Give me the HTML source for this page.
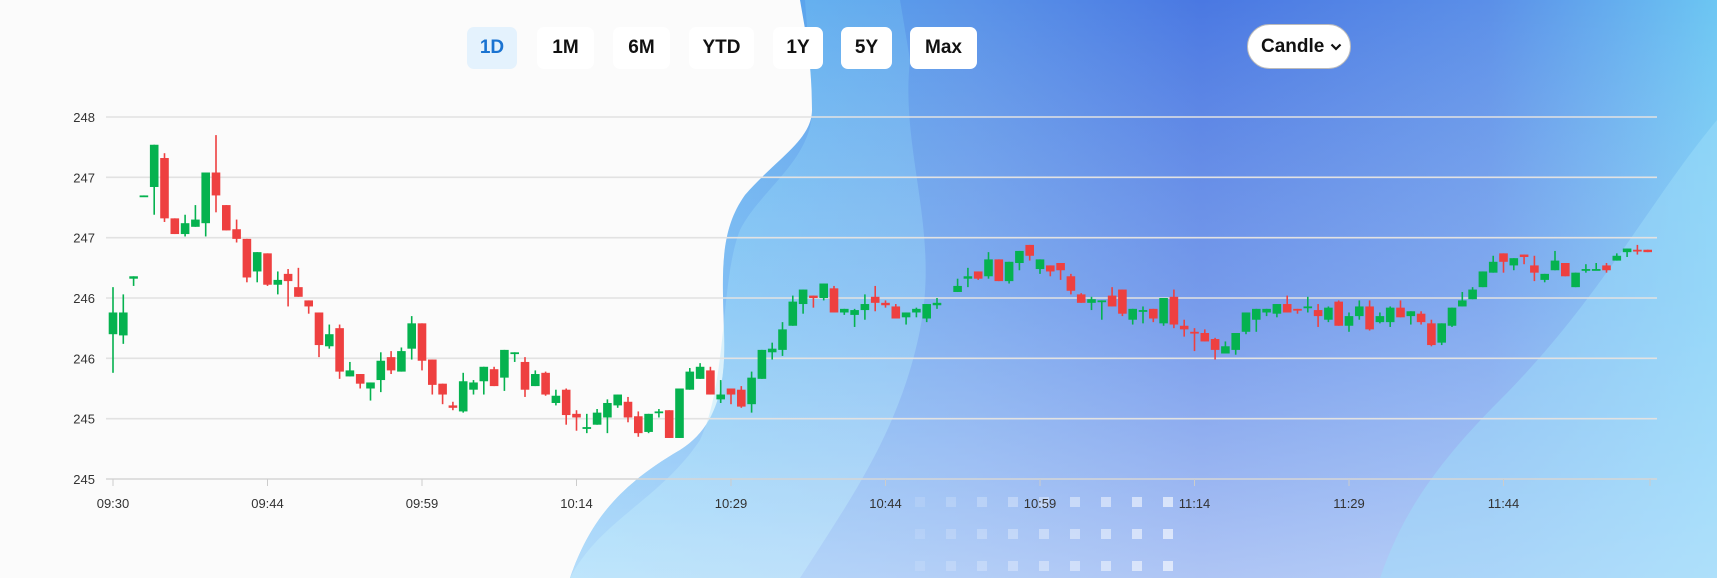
<!DOCTYPE html>
<html><head><meta charset="utf-8"><style>
html,body{margin:0;padding:0;background:#fbfbfb;width:1717px;height:578px;overflow:hidden;font-family:"Liberation Sans",sans-serif}
#wrap{position:relative;width:1717px;height:578px}
svg{position:absolute;left:0;top:0}
.btn{position:absolute;top:27px;height:42px;background:#fff;border-radius:7px;font-weight:bold;font-size:19px;line-height:42px;text-align:center;color:#111}
.btn.active{background:#e4f2fd;color:#1a73d1}
#sel{position:absolute;left:1247px;top:24px;width:104px;height:45px;border-radius:23px;background:#fff;border:1px solid #bbb;box-sizing:border-box;font-weight:bold;font-size:19px;line-height:43px;padding-left:13px;color:#111}
#sel svg{position:absolute;left:82px;top:18px}
</style></head><body>
<div id="wrap">
<svg width="1717" height="578">
<defs>
<linearGradient id="gH" x1="0" y1="0" x2="1" y2="0">
<stop offset="0" stop-color="#5cbcf3"/><stop offset="0.35" stop-color="#5a93e8"/><stop offset="0.55" stop-color="#4a78e2"/><stop offset="0.8" stop-color="#5b8fe8"/><stop offset="1" stop-color="#6cc6f3"/>
</linearGradient>
<linearGradient id="gV" x1="0" y1="0" x2="0" y2="1">
<stop offset="0" stop-color="#fff" stop-opacity="0"/><stop offset="0.5" stop-color="#d8e6ff" stop-opacity="0.3"/><stop offset="1" stop-color="#e4eeff" stop-opacity="0.65"/>
</linearGradient>
<linearGradient id="gL" x1="0" y1="0" x2="0" y2="1">
<stop offset="0" stop-color="#7fd0f6" stop-opacity="0.5"/><stop offset="1" stop-color="#c8eefc" stop-opacity="0.9"/>
</linearGradient>
</defs>
<path d="M800,0 L1717,0 L1717,578 L570,578 C590,520 620,485 680,450 C720,425 726,380 724,330 C722,270 720,230 745,195 C775,160 812,140 812,110 C812,60 805,30 800,0 Z" fill="url(#gH)"/>
<path d="M800,0 L1717,0 L1717,578 L570,578 C590,520 620,485 680,450 C720,425 726,380 724,330 C722,270 720,230 745,195 C775,160 812,140 812,110 C812,60 805,30 800,0 Z" fill="url(#gV)"/>
<path d="M812,110 C812,160 760,190 740,230 C720,280 728,380 700,440 C660,500 600,520 570,578 L800,578 C850,500 900,430 920,330 C940,230 900,150 910,60 L900,0 L805,0 C808,40 812,80 812,110 Z" fill="url(#gL)" opacity="0.55"/>
<path d="M1717,120 C1650,200 1600,300 1500,400 C1430,470 1400,520 1380,578 L1717,578 Z" fill="#9fe0fa" opacity="0.45"/>
<g id="dots"></g>
</svg>
<svg id="chart" width="1717" height="578"></svg>

<div class="btn active" style="left:467px;width:50px">1D</div>
<div class="btn" style="left:537px;width:57px">1M</div>
<div class="btn" style="left:613px;width:57px">6M</div>
<div class="btn" style="left:689px;width:65px">YTD</div>
<div class="btn" style="left:773px;width:50px">1Y</div>
<div class="btn" style="left:841px;width:51px">5Y</div>
<div class="btn" style="left:910px;width:67px">Max</div>
<div id="sel">Candle<svg width="12" height="8"><polyline points="1.5,1.5 6,6 10.5,1.5" fill="none" stroke="#111" stroke-width="2.2"/></svg></div>
</div>
<script>
const opens=[246.20,246.19,246.66,247.34,247.42,247.66,247.16,247.03,247.09,247.12,247.54,247.27,247.07,246.99,246.72,246.87,246.61,246.70,246.59,246.48,246.38,246.10,246.25,245.85,245.87,245.75,245.82,246.01,245.89,246.08,246.29,245.99,245.79,245.61,245.56,245.74,245.81,245.91,245.84,246.04,245.97,245.77,245.88,245.63,245.74,245.54,245.43,245.45,245.51,245.61,245.64,245.52,245.39,245.55,245.57,245.34,245.74,245.83,245.90,245.66,245.75,245.74,245.62,245.83,246.05,246.07,246.27,246.45,246.52,246.50,246.58,246.38,246.36,246.40,246.51,246.46,246.43,246.34,246.38,246.33,246.44,null,246.55,246.66,246.72,246.68,246.82,246.64,246.79,246.94,246.74,246.77,246.79,246.68,246.53,246.46,246.48,246.52,246.57,246.32,246.39,246.41,246.29,246.51,246.27,246.22,246.21,246.16,246.04,246.07,246.22,246.32,246.38,246.37,246.45,246.41,246.42,246.40,246.32,246.47,246.27,246.35,246.43,246.30,246.30,246.42,246.35,246.37,246.29,246.13,246.27,246.43,246.49,246.59,246.71,246.87,246.77,246.86,246.77,246.65,246.73,246.79,246.59,246.73,246.73,246.77,246.81,246.88,246.90,246.90];
const highs=[246.59,246.53,246.68,247.35,247.77,247.70,247.16,247.19,247.27,247.54,247.85,247.27,247.15,246.99,246.88,246.87,246.72,246.74,246.75,246.48,246.38,246.28,246.28,245.97,245.87,245.80,246.05,246.06,246.09,246.35,246.29,245.99,245.79,245.64,245.88,245.82,245.93,245.93,246.07,246.05,246.01,245.90,245.89,245.74,245.75,245.57,245.54,245.58,245.66,245.70,245.68,245.56,245.54,245.58,245.57,245.75,245.92,245.96,245.93,245.82,245.75,245.77,245.89,246.07,246.13,246.30,246.52,246.57,246.52,246.62,246.60,246.41,246.41,246.53,246.60,246.48,246.45,246.38,246.42,246.45,246.50,null,246.66,246.75,246.72,246.88,246.82,246.80,246.89,246.94,246.82,246.77,246.79,246.70,246.54,246.51,246.48,246.59,246.57,246.41,246.43,246.41,246.50,246.57,246.32,246.25,246.24,246.17,246.14,246.21,246.38,246.41,246.41,246.45,246.52,246.41,246.51,246.45,246.43,246.48,246.38,246.48,246.48,246.38,246.43,246.48,246.39,246.39,246.32,246.29,246.42,246.55,246.59,246.72,246.85,246.87,246.83,246.86,246.85,246.70,246.89,246.79,246.71,246.78,246.79,246.79,246.87,246.91,246.94,246.90];
const lows=[245.88,246.12,246.60,247.34,247.19,247.13,247.03,247.01,247.09,247.01,247.21,247.06,246.96,246.63,246.63,246.60,246.53,246.43,246.51,246.37,246.01,246.08,245.83,245.85,245.75,245.65,245.72,245.87,245.89,245.99,245.90,245.70,245.62,245.57,245.55,245.70,245.70,245.77,245.73,245.97,245.68,245.77,245.69,245.61,245.45,245.40,245.38,245.45,245.38,245.59,245.47,245.35,245.38,245.51,245.34,245.34,245.74,245.83,245.70,245.63,245.62,245.59,245.55,245.83,245.99,246.02,246.27,246.37,246.42,246.48,246.38,246.36,246.26,246.32,246.39,246.42,246.33,246.28,246.34,246.30,246.41,null,246.55,246.59,246.65,246.66,246.64,246.62,246.73,246.81,246.70,246.68,246.65,246.53,246.46,246.40,246.32,246.43,246.35,246.28,246.29,246.30,246.27,246.25,246.18,246.06,246.14,245.99,246.04,246.03,246.20,246.22,246.35,246.34,246.38,246.37,246.38,246.26,246.30,246.27,246.22,246.32,246.23,246.29,246.26,246.34,246.28,246.28,246.10,246.11,246.26,246.43,246.49,246.59,246.71,246.71,246.73,246.78,246.64,246.63,246.73,246.68,246.59,246.71,246.73,246.71,246.81,246.84,246.86,246.88];
const closes=[246.38,246.38,246.68,247.35,247.77,247.16,247.03,247.12,247.15,247.54,247.35,247.06,246.99,246.67,246.88,246.61,246.65,246.64,246.51,246.43,246.11,246.20,245.89,245.90,245.79,245.80,245.98,245.90,246.06,246.29,245.98,245.78,245.70,245.59,245.81,245.80,245.93,245.77,246.07,246.05,245.74,245.87,245.70,245.69,245.53,245.51,245.43,245.55,245.63,245.70,245.51,245.38,245.54,245.56,245.34,245.75,245.89,245.93,245.70,245.70,245.70,245.60,245.84,246.07,246.08,246.24,246.47,246.57,246.50,246.62,246.38,246.41,246.40,246.45,246.46,246.44,246.33,246.38,246.41,246.45,246.46,null,246.60,246.68,246.66,246.82,246.64,246.80,246.89,246.85,246.82,246.72,246.73,246.56,246.46,246.49,246.48,246.43,246.37,246.41,246.40,246.33,246.50,246.28,246.24,246.21,246.14,246.07,246.10,246.21,246.38,246.41,246.41,246.45,246.38,246.40,246.43,246.35,246.42,246.27,246.35,246.43,246.24,246.35,246.42,246.34,246.39,246.30,246.11,246.29,246.42,246.48,246.57,246.72,246.80,246.80,246.83,246.84,246.71,246.70,246.81,246.68,246.71,246.74,246.74,246.73,246.85,246.91,246.89,246.88];
const yTickValues=[248,247.5,247,246.5,246,245.5,245];
const yTickLabels=["248","247","247","246","246","245","245"];
const xTickIndex=[0,15,30,45,60,75,90,105,120,135];
const xTickLabels=["09:30","09:44","09:59","10:14","10:29","10:44","10:59","11:14","11:29","11:44"];

const NS="http://www.w3.org/2000/svg";
const X0=113, STEP=10.3, YMAX=248, YMIN=245, YTOP=117, YBOT=479;
function xs(i){return X0+i*STEP;}
function ys(v){return YTOP+(YMAX-v)*(YBOT-YTOP)/(YMAX-YMIN);}
function mk(tag,attrs,parent){const e=document.createElementNS(NS,tag);for(const k in attrs)e.setAttribute(k,attrs[k]);parent.appendChild(e);return e;}
const svg=document.getElementById('chart');

const dots=document.getElementById('dots');
for(let r=0;r<3;r++){for(let c=0;c<9;c++){
  const d=mk('rect',{x:915+c*31,y:497+r*32,width:10,height:10,fill:'#ffffff',opacity:(0.12+c*0.06).toFixed(2)},dots);
  
  
}}

yTickValues.forEach((v,k)=>{
  const y=ys(v);
  const g=mk('line',{x1:106,x2:1657,y1:y,y2:y,stroke:k===yTickValues.length-1?'#d6d6d6':'#e2e2e2','stroke-width':1.6},svg);
  
  
  const t=mk('text',{x:95,y:y+5,'text-anchor':'end','font-size':13,fill:'#333','font-family':'Liberation Sans, sans-serif'},svg);
  t.textContent=yTickLabels[k];
  
  
});
xTickIndex.forEach((idx,k)=>{
  const x=xs(idx);
  const tk=mk('line',{x1:x,x2:x,y1:YBOT,y2:YBOT+7,stroke:'#ccc','stroke-width':1},svg);
  
  
  const t=mk('text',{x:x,y:508,'text-anchor':'middle','font-size':13,fill:'#333','font-family':'Liberation Sans, sans-serif'},svg);
  t.textContent=xTickLabels[k];
  
  
});
const endTick=mk('line',{x1:1650,x2:1650,y1:YBOT,y2:YBOT+7,stroke:'#ccc','stroke-width':1},svg);



for(let i=0;i<opens.length;i++){
  if(opens[i]==null)continue;
  const o=opens[i],h=highs[i],l=lows[i],c=closes[i];
  const up=c>=o, col=up?'#05b24f':'#ee4040';
  const x=xs(i);
  const g=mk('g',{},svg);
  
  
  mk('line',{x1:x,x2:x,y1:ys(h),y2:ys(l),stroke:col,'stroke-width':1.6},g);
  const top=ys(Math.max(o,c)), bot=ys(Math.min(o,c));
  mk('rect',{x:x-4.3,y:top,width:8.6,height:Math.max(1.8,bot-top),fill:col},g);
}
</script>
</body></html>
